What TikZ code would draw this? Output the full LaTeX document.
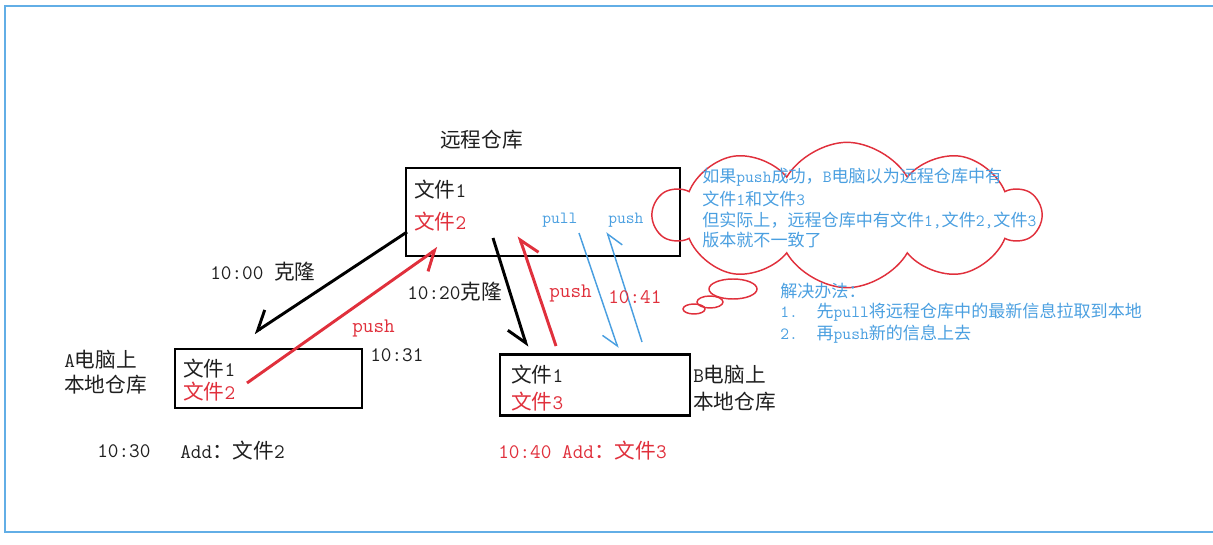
\documentclass[tikz,border=0pt]{standalone}
\usepackage{fontspec}
\usetikzlibrary{arrows.meta,shapes.symbols}
\newfontfamily\cjkfont{Noto Sans CJK SC}
% switch to the CJK font for ideographs and full-width signs
\XeTeXinterchartokenstate=1
\newXeTeXintercharclass\zhclass
\newcount\zhcount
\zhcount="3000
\loop
  \XeTeXcharclass\zhcount=\zhclass
  \advance\zhcount by 1
\ifnum\zhcount<"A000 \repeat
\zhcount="FF00
\loop
  \XeTeXcharclass\zhcount=\zhclass
  \advance\zhcount by 1
\ifnum\zhcount<"FFF0 \repeat
\XeTeXinterchartoks 0 \zhclass = {\cjkfont}
\XeTeXinterchartoks 4095 \zhclass = {\cjkfont}
\XeTeXinterchartoks \zhclass 0 = {\ttfamily}
\XeTeXinterchartoks 4095 0 = {\ttfamily}
\definecolor{git-red}{HTML}{E0303C}
\definecolor{git-blue}{HTML}{4A9FE0}
\definecolor{frame-blue}{HTML}{62AEE6}

\begin{document}
\begin{tikzpicture}[
    x=0.75pt, y=-0.75pt,
    font=\ttfamily\fontsize{15.5}{18}\selectfont,
    txt/.style={anchor=west, inner sep=0pt, text=black!88},
    redtxt/.style={txt, text=git-red},
    note/.style={txt, text=git-blue, font=\ttfamily\fontsize{12.8}{15}\selectfont},
    repo/.style={draw=black, line width=2pt, inner sep=0pt},
    harp/.style={-{Straight Barb[harpoon, swap, length=13pt, width=20pt]}, line width=2.2pt},
    thin harp/.style={-{Straight Barb[harpoon, swap, length=11pt, width=16pt]}, line width=1.1pt, draw=git-blue},
    bubble/.style={draw=git-red, line width=1.1pt}
]
\useasboundingbox (0,0) rectangle (1213,545);
\draw[frame-blue, line width=2.2pt] (1213,6) -- (5,6) -- (5,532) -- (1213,532);

% repositories
\node[repo, minimum width=205.5pt, minimum height=66pt] (remote) at (543,212) {};
\node[repo, minimum width=140.25pt, minimum height=44.25pt] (repoA) at (268.5,378.5) {};
\node[repo, minimum width=142.5pt, minimum height=45.75pt] (repoB) at (595,385) {};

\node[txt] (remote-label) at (440,140) {远程仓库};
\node[txt] (remote-f1) at (414,190) {文件1};
\node[redtxt] (remote-f2) at (414,222) {文件2};

\node[txt] (A-label1) at (64,360) {A电脑上};
\node[txt] (A-label2) at (64,385) {本地仓库};
\node[txt] (A-f1) at (183,369) {文件1};
\node[redtxt] (A-f2) at (183,392) {文件2};
\node[txt] (A-time) at (370,355) {10:31};
\node[txt] (A-add-time) at (97,451) {10:30};
\node[txt] (A-add) at (180,451) {Add：文件2};

\node[txt] (B-label1) at (693,375) {B电脑上};
\node[txt] (B-label2) at (693,402) {本地仓库};
\node[txt] (B-f1) at (511,375) {文件1};
\node[redtxt] (B-f2) at (511,402) {文件3};
\node[redtxt] (B-add) at (498,451) {10:40 Add：文件3};

% arrows
\coordinate (cloneA-from) at (407,232);
\coordinate (cloneA-to) at (254,333);
\coordinate (pushA-from) at (247,383);
\coordinate (pushA-to) at (438,248);
\coordinate (cloneB-from) at (493,238);
\coordinate (cloneB-to) at (527,347);
\coordinate (pushB-from) at (556,346);
\coordinate (pushB-to) at (519,236);
\coordinate (pull-from) at (579,233);
\coordinate (pull-to) at (618,348);
\coordinate (pushC-from) at (642,342);
\coordinate (pushC-to) at (607,232);

\draw[harp, draw=black] (cloneA-from) -- (cloneA-to);
\draw[harp, draw=git-red] (pushA-from) -- (pushA-to);
\draw[harp, draw=black] (cloneB-from) -- (cloneB-to);
\draw[harp, draw=git-red] (pushB-from) -- (pushB-to);
\draw[thin harp] (pull-from) -- (pull-to);
\draw[thin harp] (pushC-from) -- (pushC-to);

\node[txt] (cloneA-label) at (210,272) {10:00 克隆};
\node[redtxt] (pushA-label) at (352,328) {push};
\node[txt] (cloneB-label) at (407,292) {10:20克隆};
\node[redtxt] (pushB-label) at (549,293) {push};
\node[redtxt] (pushB-time) at (608,297) {10:41};
\node[note] (pull-label) at (542,220) {pull};
\node[note] (pushC-label) at (608,220) {push};

% thought cloud
\node[cloud, cloud puffs=10, cloud puff arc=120, draw=git-red, line width=1.1pt,
      minimum width=289pt, minimum height=109pt] (thought) at (847,215) {};
\draw[bubble] (733,289) ellipse [x radius=24, y radius=10];
\draw[bubble] (710,302) ellipse [x radius=13, y radius=6];
\draw[bubble] (694,309) ellipse [x radius=11, y radius=5];
\node[note] (thought-1) at (702,177) {如果push成功，B电脑以为远程仓库中有};
\node[note] (thought-2) at (702,199) {文件1和文件3};
\node[note] (thought-3) at (702,220) {但实际上，远程仓库中有文件1,文件2,文件3};
\node[note] (thought-4) at (702,240) {版本就不一致了};

% fix
\node[note] (fix-title) at (780,291) {解决办法：};
\node[note] (fix-1) at (780,312) {1.\hspace{1.1em}先pull将远程仓库中的最新信息拉取到本地};
\node[note] (fix-2) at (780,334) {2.\hspace{1.1em}再push新的信息上去};
\end{tikzpicture}
\end{document}
